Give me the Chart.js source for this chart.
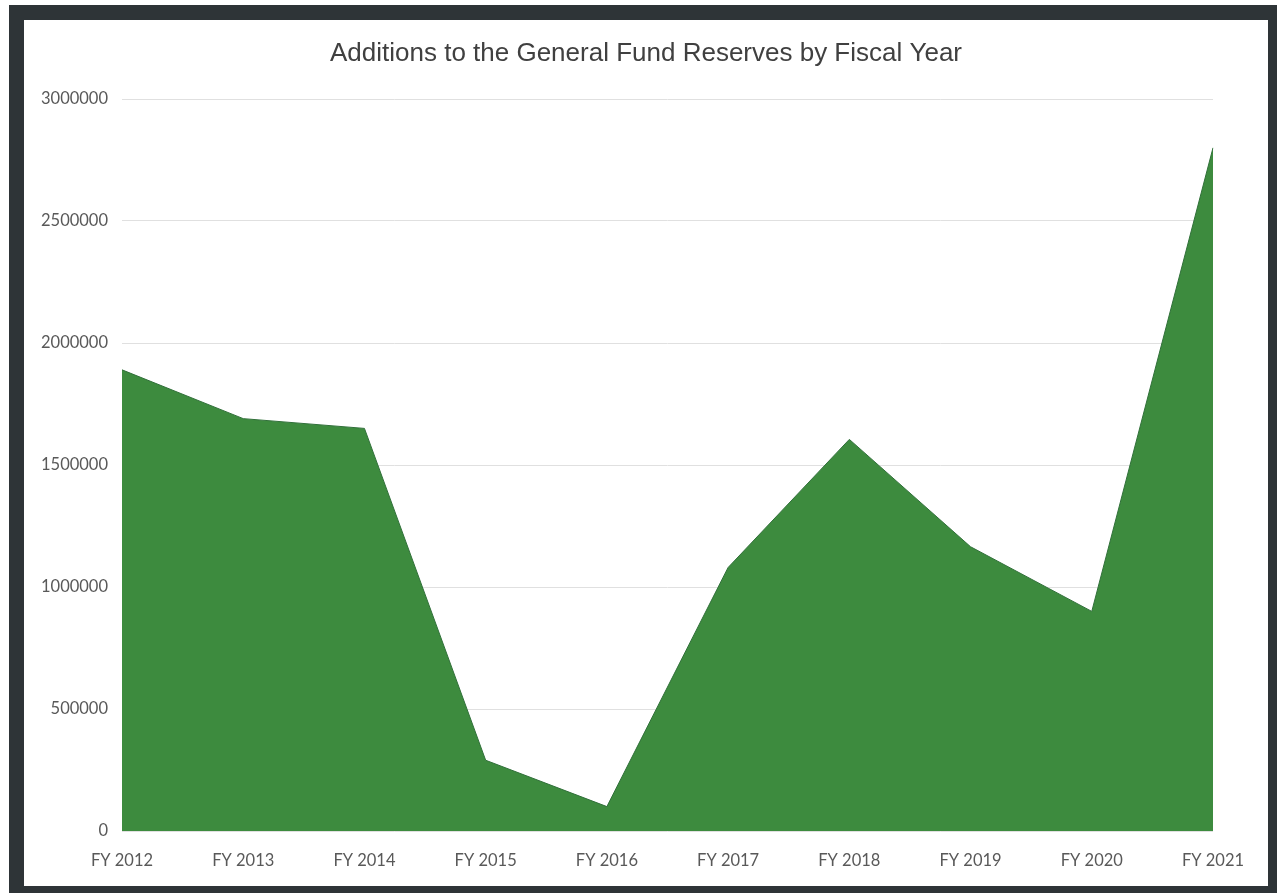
<!DOCTYPE html>
<html>
<head>
<meta charset="utf-8">
<script src="https://cdn.jsdelivr.net/npm/chart.js@4/dist/chart.umd.min.js"></script>
<style>
  html, body { margin: 0; padding: 0; background: #ffffff; }
  body { width: 1277px; height: 893px; position: relative; overflow: hidden; }
  .frame {
    position: absolute; left: 9px; top: 5px;
    width: 1244px; height: 866px;
    border-style: solid; border-color: #2e3437;
    border-width: 15px 10px 8px 15px;
    background: #ffffff;
  }
  .wrap { position: absolute; left: 0; top: 0; width: 1244px; height: 866px; }
</style>
</head>
<body>
<div class="frame"><div class="wrap"><canvas id="chart"></canvas></div></div>
<script>
// Additions to the General Fund Reserves by Fiscal Year

const fiscalYears = ['FY 2012', 'FY 2013', 'FY 2014', 'FY 2015', 'FY 2016',
                     'FY 2017', 'FY 2018', 'FY 2019', 'FY 2020', 'FY 2021'];
const additions = [1890000, 1690000, 1650000, 290000, 100000,
                   1080000, 1605000, 1165000, 900000, 2800000];
const yTicks = [0, 500000, 1000000, 1500000, 2000000, 2500000, 3000000];
const chartTitle = 'Additions to the General Fund Reserves by Fiscal Year';

Chart.defaults.font.family = "Lato, 'Open Sans', sans-serif";
Chart.defaults.color = '#595959';

// title centred on the whole frame, not on the padded chart box
const frameTitle = {
  id: 'frameTitle',
  afterDraw(chart) {
    const c = chart.ctx;
    c.save();
    c.font = "normal 26px 'Liberation Sans', Arial, sans-serif";
    c.fillStyle = '#404040';
    c.textAlign = 'center';
    c.textBaseline = 'middle';
    c.fillText(chartTitle, chart.width / 2, 34);
    c.restore();
  }
};

const ctx = document.getElementById('chart');
new Chart(ctx, {
  type: 'line',
  data: {
    labels: fiscalYears,
    datasets: [{
      data: additions,
      fill: 'origin',
      backgroundColor: '#3d8b3e',
      borderColor: '#31703a',
      borderWidth: 1,
      pointRadius: 0,
      tension: 0,
    }]
  },
  options: {
    responsive: true,
    maintainAspectRatio: false,
    animation: false,
    layout: { padding: { left: 0, right: 55, top: 79, bottom: 0 } },
    plugins: {
      legend: { display: false },
      tooltip: { enabled: false },
      title: { display: false }
    },
    scales: {
      x: {
        offset: false,
        grid: { display: false, drawTicks: false },
        border: { display: false },
        ticks: { padding: 20, font: { size: 16.5 }, color: '#595959', maxRotation: 0 },
        afterFit: s => { s.height = 55; }
      },
      y: {
        min: 0,
        max: 3000000,
        afterBuildTicks: s => { s.ticks = yTicks.map(v => ({ value: v })); },
        grid: { color: '#e0e0e0', lineWidth: 1, drawTicks: false },
        border: { display: false },
        ticks: { padding: 14, font: { size: 16.5 }, color: '#595959', callback: v => String(v) },
        afterFit: s => { s.width = 98; }
      }
    }
  },
  plugins: [frameTitle]
});
</script>
</body>
</html>
